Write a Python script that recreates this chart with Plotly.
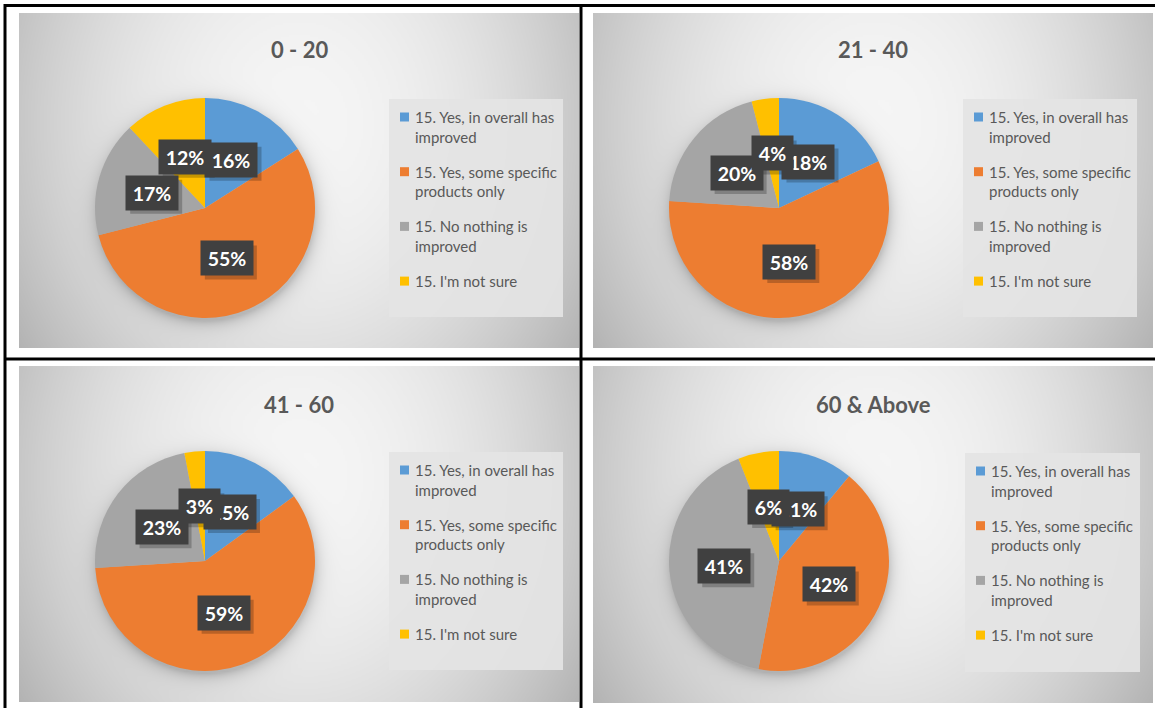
import math
import textwrap
import numpy as np
import plotly.graph_objects as go

W, H = 1155, 708

# ---------------- data ----------------
categories = [
    "15. Yes, in overall has improved",
    "15. Yes, some specific products only",
    "15. No nothing is improved",
    "15. I'm not sure",
]
groups = ["0 - 20", "21 - 40", "41 - 60", "60 & Above"]
pct_0_20 = [16, 55, 17, 12]
pct_21_40 = [18, 58, 20, 4]
pct_41_60 = [15, 59, 23, 3]
pct_60_above = [11, 42, 41, 6]
series = [pct_0_20, pct_21_40, pct_41_60, pct_60_above]

# ---------------- style / layout ----------------
colors = ["#5B9BD5", "#ED7D31", "#A5A5A5", "#FFC000"]
FONT = "Lato"
TXT = "#595959"

panels = [
    dict(x0=19, x1=579, y0=13, y1=348, cx=205, cy=208, r=110, lx0=389, ly0=99, lx1=563, ly1=317, ty=50),
    dict(x0=593, x1=1153, y0=13, y1=348, cx=779, cy=208, r=110, lx0=963, ly0=99, lx1=1137, ly1=317, ty=50),
    dict(x0=19, x1=579, y0=366, y1=702, cx=205, cy=561, r=110, lx0=389, ly0=452, lx1=563, ly1=670, ty=404),
    dict(x0=593, x1=1153, y0=366, y1=703, cx=779, cy=561, r=110, lx0=965, ly0=453, lx1=1140, ly1=672, ty=404),
]


def fx(x):
    return x / W


def fy(y):
    return 1 - y / H


fig = go.Figure()
shapes = []
annotations = []
layout_axes = {}

for k, (p, vals, title) in enumerate(zip(panels, series, groups)):
    # ---- panel background (radial gray gradient + pie shadow) ----
    step = 2
    pw, ph = p["x1"] - p["x0"], p["y1"] - p["y0"]
    nx, ny = pw // step, ph // step
    xs = p["x0"] + (np.arange(nx) + 0.5) * pw / nx
    ys = p["y0"] + (np.arange(ny) + 0.5) * ph / ny
    X, Y = np.meshgrid(xs, ys)
    u = (X - (p["x0"] + 0.5 * pw)) / (0.5 * pw)
    v = (Y - (p["y0"] + 0.33 * ph)) / ph
    bright = 0.96 - 0.18 * (u ** 2 + v ** 2)
    dist = np.sqrt((X - p["cx"] - 1) ** 2 + (Y - p["cy"] - 4) ** 2)
    shadow = 0.18 * np.exp(-np.clip(dist - (p["r"] - 2), 0, None) / 7.0)
    bright = np.clip(bright - shadow, 0, 1)
    z = np.round(bright, 3).tolist()
    ax = "" if k == 0 else str(k + 1)
    fig.add_trace(go.Heatmap(
        z=z, xaxis="x" + ax, yaxis="y" + ax, zmin=0, zmax=1, zsmooth="best",
        colorscale=[[0, "rgb(0,0,0)"], [1, "rgb(255,255,255)"]],
        showscale=False, hoverinfo="skip",
    ))
    layout_axes["xaxis" + ax] = dict(domain=[fx(p["x0"]), fx(p["x1"])], visible=False,
                                     range=[-0.5, nx - 0.5], fixedrange=True)
    layout_axes["yaxis" + ax] = dict(domain=[fy(p["y1"]), fy(p["y0"])], visible=False,
                                     range=[ny - 0.5, -0.5], fixedrange=True)

    # ---- pie ----
    r = p["r"]
    fig.add_trace(go.Pie(
        labels=categories, values=vals, sort=False, direction="clockwise", rotation=0,
        marker=dict(colors=colors, line=dict(width=0)), textinfo="none",
        hovertemplate="%{label}: %{value}%<extra></extra>", showlegend=False,
        domain=dict(x=[fx(p["cx"] - r), fx(p["cx"] + r)], y=[fy(p["cy"] + r), fy(p["cy"] - r)]),
    ))

    # ---- title ----
    annotations.append(dict(
        x=fx((p["x0"] + p["x1"]) / 2), y=fy(p["ty"]), xref="paper", yref="paper",
        text=f"<b>{title}</b>", showarrow=False, xanchor="center", yanchor="middle",
        font=dict(family=FONT, size=22, color=TXT),
    ))

    # ---- data labels (dark boxes) at half radius on slice mid-angle ----
    total = sum(vals)
    cum = 0
    for val in vals:
        theta = 2 * math.pi * (cum + val / 2) / total
        cum += val
        lx = p["cx"] + 0.5 * r * math.sin(theta)
        ly = p["cy"] - 0.5 * r * math.cos(theta)
        label = f"{round(100 * val / total)}%"
        bw = 11 * (len(label) - 1) + 30
        bh = 34
        shapes.append(dict(type="rect", xref="paper", yref="paper", layer="above",
                           x0=fx(lx - bw / 2 + 4), x1=fx(lx + bw / 2 + 4),
                           y0=fy(ly + bh / 2 + 4), y1=fy(ly - bh / 2 + 4),
                           fillcolor="rgba(0,0,0,0.22)", line=dict(width=0)))
        annotations.append(dict(
            x=fx(lx), y=fy(ly), xref="paper", yref="paper", text=f"<b>{label}</b>",
            showarrow=False, xanchor="center", yanchor="middle", borderpad=0,
            width=bw, height=bh,
            bgcolor="#404040", font=dict(family=FONT, size=19.5, color="white"),
        ))

    # ---- legend box ----
    shapes.append(dict(type="rect", xref="paper", yref="paper", layer="above",
                       x0=fx(p["lx0"]), x1=fx(p["lx1"]), y0=fy(p["ly1"]), y1=fy(p["ly0"]),
                       fillcolor="rgba(228,228,228,0.92)", line=dict(width=0)))
    for i, (cat, col) in enumerate(zip(categories, colors)):
        y_first = p["ly0"] + 18 + 54.7 * i
        shapes.append(dict(type="rect", xref="paper", yref="paper", layer="above",
                           x0=fx(p["lx0"] + 11), x1=fx(p["lx0"] + 20),
                           y0=fy(y_first + 4.5), y1=fy(y_first - 4.5),
                           fillcolor=col, line=dict(width=0)))
        for j, line in enumerate(textwrap.wrap(cat, 23)):
            annotations.append(dict(
                x=fx(p["lx0"] + 23.5), y=fy(y_first + 19.5 * j), xref="paper", yref="paper",
                text=line, showarrow=False, xanchor="left", yanchor="middle",
                font=dict(family=FONT, size=15, color=TXT),
            ))

# ---- table grid lines ----
for (x0, y0, x1, y1) in [(4, 5.5, 1155, 5.5), (5, 4, 5, 708), (581, 4, 581, 708), (4, 359, 1155, 359)]:
    shapes.append(dict(type="line", xref="paper", yref="paper", layer="above",
                       x0=fx(x0), x1=fx(x1), y0=fy(y0), y1=fy(y1),
                       line=dict(color="black", width=3)))

fig.update_layout(
    width=W, height=H, autosize=False,
    margin=dict(l=0, r=0, t=0, b=0),
    paper_bgcolor="white", plot_bgcolor="white",
    shapes=shapes, annotations=annotations,
    **layout_axes,
)

fig.write_html("out.html", config={"displayModeBar": False},
               post_script="document.body.style.margin='0px';")
